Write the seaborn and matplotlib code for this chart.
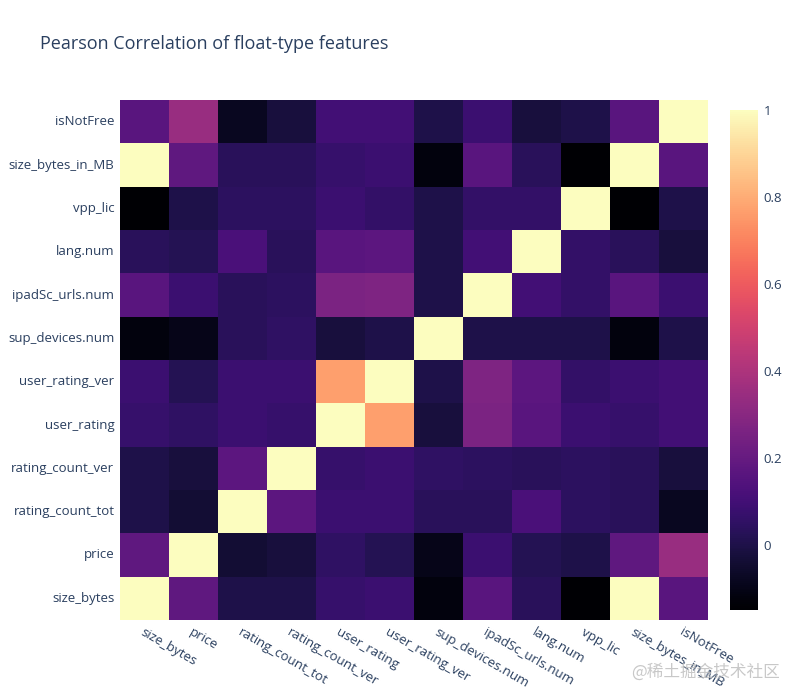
import numpy as np
import pandas as pd
import matplotlib
matplotlib.use('Agg')
import matplotlib.pyplot as plt
import seaborn as sns

# features, in plotly order (first = bottom row / left column)
features = ['size_bytes', 'price', 'rating_count_tot', 'rating_count_ver',
            'user_rating', 'user_rating_ver', 'sup_devices.num', 'ipadSc_urls.num',
            'lang.num', 'vpp_lic', 'size_bytes_in_MB', 'isNotFree']

# correlation rows
size_bytes       = [1.00, 0.18, 0.00, 0.00, 0.07, 0.08, -0.12, 0.16, 0.03, -0.15, 1.00, 0.16]
price            = [0.18, 1.00, -0.04, -0.02, 0.05, 0.02, -0.10, 0.08, 0.02, 0.00, 0.18, 0.34]
rating_count_tot = [0.00, -0.04, 1.00, 0.17, 0.08, 0.08, 0.03, 0.03, 0.12, 0.04, 0.03, -0.08]
rating_count_ver = [0.00, -0.02, 0.17, 1.00, 0.07, 0.08, 0.05, 0.04, 0.03, 0.04, 0.03, -0.02]
user_rating      = [0.07, 0.05, 0.08, 0.07, 1.00, 0.77, -0.02, 0.26, 0.16, 0.08, 0.07, 0.10]
user_rating_ver  = [0.08, 0.02, 0.08, 0.08, 0.77, 1.00, 0.00, 0.27, 0.17, 0.06, 0.08, 0.10]
sup_devices_num  = [-0.12, -0.10, 0.03, 0.05, -0.02, 0.00, 1.00, 0.00, 0.00, 0.00, -0.12, 0.00]
ipadSc_urls_num  = [0.16, 0.08, 0.03, 0.04, 0.26, 0.27, 0.00, 1.00, 0.10, 0.06, 0.16, 0.08]
lang_num         = [0.03, 0.02, 0.12, 0.03, 0.16, 0.17, 0.00, 0.10, 1.00, 0.06, 0.03, -0.02]
vpp_lic          = [-0.15, 0.00, 0.04, 0.04, 0.08, 0.06, 0.00, 0.06, 0.06, 1.00, -0.15, 0.00]
size_bytes_in_MB = [1.00, 0.18, 0.03, 0.03, 0.07, 0.08, -0.12, 0.16, 0.03, -0.15, 1.00, 0.16]
isNotFree        = [0.16, 0.34, -0.08, -0.02, 0.10, 0.10, 0.00, 0.08, -0.02, 0.00, 0.16, 1.00]

rows = [size_bytes, price, rating_count_tot, rating_count_ver, user_rating,
        user_rating_ver, sup_devices_num, ipadSc_urls_num, lang_num, vpp_lic,
        size_bytes_in_MB, isNotFree]
corr = pd.DataFrame(rows, index=features, columns=features)

plt.rcParams['font.family'] = ['Open Sans', 'DejaVu Sans']
text_col = '#2a3f5f'

fig = plt.figure(figsize=(8, 7), dpi=100)
ax = fig.add_axes([0.15, 0.1143, 0.735, 0.7428])
cax = fig.add_axes([0.9125, 0.1286, 0.035, 0.714])

# plotly draws the first row at the bottom, so flip rows for seaborn
sns.heatmap(corr.iloc[::-1], cmap='magma', vmin=-0.15, vmax=1.0,
            ax=ax, cbar_ax=cax, linewidths=0)

ax.tick_params(length=0, labelsize=9.5, labelcolor=text_col, pad=4)
ax.set_yticklabels(ax.get_yticklabels(), rotation=0)
ax.set_xticklabels(ax.get_xticklabels(), rotation=-30, ha='left', va='top',
                   rotation_mode='anchor')
ax.set_xlabel('')
ax.set_ylabel('')

cb = ax.collections[0].colorbar
cb.set_ticks([0, 0.2, 0.4, 0.6, 0.8, 1.0])
cb.set_ticklabels(['0', '0.2', '0.4', '0.6', '0.8', '1'])
cb.outline.set_visible(False)
cax.tick_params(length=0, labelsize=9.5, labelcolor=text_col, pad=4)

fig.text(0.05, 0.937, 'Pearson Correlation of float-type features',
         fontsize=13, color=text_col, va='center', ha='left')

fig.text(0.975, 0.04, '@稀土掘金技术社区', fontsize=12, color='#bbbbbb',
         ha='right', va='center', alpha=0.8,
         family=['Noto Sans CJK SC', 'DejaVu Sans'])

fig.savefig('out.png', dpi=100)
